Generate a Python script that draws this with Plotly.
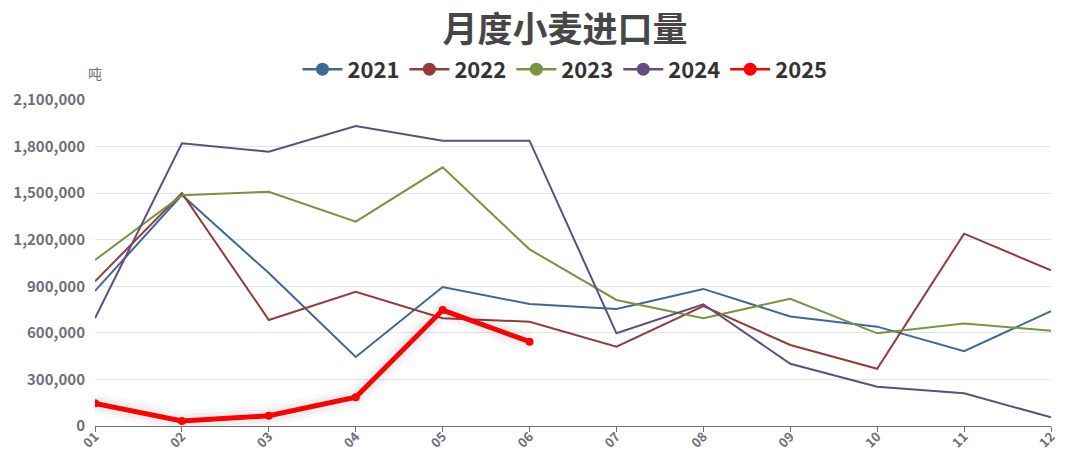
import plotly.graph_objects as go

months = ["01", "02", "03", "04", "05", "06", "07", "08", "09", "10", "11", "12"]
y2021 = [870000, 1488000, 985000, 445000, 895000, 786000, 754000, 883000, 706000, 640000, 482000, 740000]
y2022 = [932000, 1500000, 683000, 865000, 694000, 672000, 511000, 773000, 522000, 369000, 1239000, 1003000]
y2023 = [1069000, 1486000, 1509000, 1316000, 1666000, 1138000, 812000, 694000, 820000, 597000, 661000, 614000]
y2024 = [694000, 1821000, 1767000, 1933000, 1838000, 1838000, 597000, 784000, 401000, 253000, 211000, 56000]
y2025 = [146000, 32000, 66000, 185000, 747000, 543000]

series = [
    ("2021", y2021, "#3f6797", 2, False),
    ("2022", y2022, "#943c39", 2, False),
    ("2023", y2023, "#789440", 2, False),
    ("2024", y2024, "#634c7f", 2, False),
    ("2025", y2025, "#ff0000", 5, True),
]

fig = go.Figure()
for name, vals, color, width, marks in series:
    xs = months[:len(vals)]
    if marks:
        # soft shadow under the highlighted line
        for w, a in [(22, 0.025), (14, 0.04)]:
            fig.add_trace(go.Scatter(
                x=xs, y=vals, mode="lines", showlegend=False, hoverinfo="skip",
                line=dict(color=f"rgba(0,0,0,{a})", width=w),
            ))
    fig.add_trace(go.Scatter(
        x=xs, y=vals, name=name, legendgroup=name, showlegend=False,
        mode="lines+markers" if marks else "lines",
        line=dict(color=color, width=width),
        marker=dict(color=color, size=8),
        hovertemplate="%{x}: %{y:,}<extra>" + name + "</extra>",
    ))
# legend entries (line with circle icon)
for name, vals, color, width, marks in series:
    fig.add_trace(go.Scatter(
        x=[None], y=[None], name=name, legendgroup=name, showlegend=True,
        mode="lines+markers",
        line=dict(color=color, width=2.5),
        marker=dict(color=color, size=13),
    ))

fig.update_layout(
    width=1074, height=451,
    margin=dict(l=95, r=23, t=100, b=25),
    paper_bgcolor="white", plot_bgcolor="white",
    title=dict(text="<b>月度小麦进口量</b>", x=0.526, xanchor="center", y=0.935, yanchor="middle",
               font=dict(family="Noto Sans CJK SC", size=35, color="#464646")),
    legend=dict(orientation="h", x=0.4916, xanchor="center", y=1.094, yanchor="middle",
                font=dict(family="Noto Sans CJK SC", size=22, color="#333333", weight="bold"),
                itemwidth=40, tracegroupgap=0, bgcolor="rgba(0,0,0,0)"),
    font=dict(family="Noto Sans CJK SC", color="#6e7079"),
    showlegend=True,
)
fig.update_xaxes(
    type="category", categoryorder="array", categoryarray=months,
    range=[0, 11], tickangle=-45, showgrid=False, automargin=False,
    showline=True, linecolor="#6e7079", linewidth=1,
    ticks="outside", ticklen=5, tickcolor="#6e7079",
    ticklabelstandoff=-8,
    tickfont=dict(family="Noto Sans CJK SC", size=13, color="#6e7079", weight="bold"),
    zeroline=False, fixedrange=True,
)
fig.update_yaxes(
    range=[0, 2100000], dtick=300000, tickformat=",", automargin=False,
    showgrid=True, gridcolor="#e0e6f1", gridwidth=1,
    zeroline=False, showline=False, ticks="", ticklabelstandoff=9,
    tickfont=dict(family="Noto Sans CJK SC", size=15, color="#6e7079", weight="bold"),
    fixedrange=True,
)
fig.add_annotation(text="吨", xref="paper", yref="paper", x=0, y=1.083,
                   xanchor="center", yanchor="middle", showarrow=False,
                   font=dict(family="Noto Sans CJK SC", size=14, color="#6e7079"))

fig.write_html("out.html", config={"displayModeBar": False},
               post_script="document.body.style.margin='0';")
